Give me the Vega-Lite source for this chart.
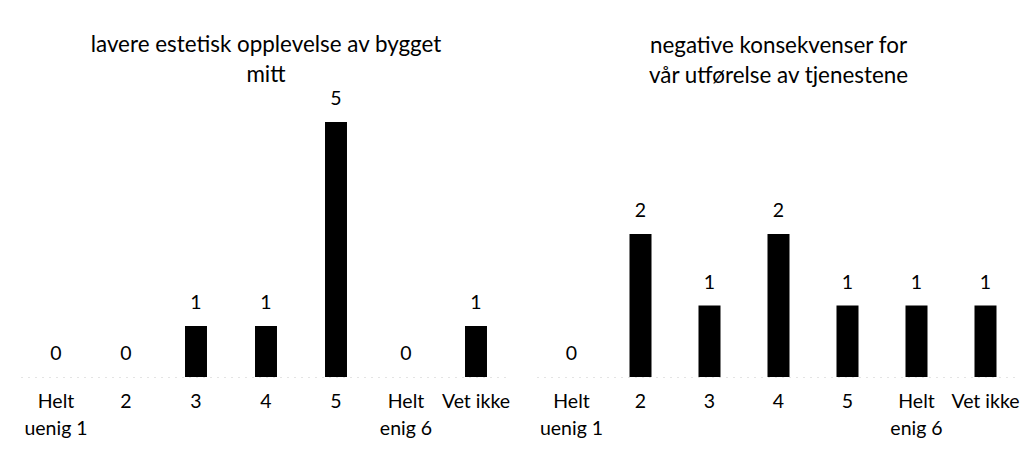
{
  "$schema": "https://vega.github.io/schema/vega-lite/v6.json",
  "padding": {"left": 21, "top": 33, "right": 0, "bottom": 0},
  "background": "white",
  "config": {"view": {"stroke": null}, "font": "Lato", "concat": {"spacing": 26}},
  "datasets": {
    "venstre": [
      {"kategori": "Helt uenig 1", "antall": 0},
      {"kategori": "2", "antall": 0},
      {"kategori": "3", "antall": 1},
      {"kategori": "4", "antall": 1},
      {"kategori": "5", "antall": 5},
      {"kategori": "Helt enig 6", "antall": 0},
      {"kategori": "Vet ikke", "antall": 1}
    ],
    "hoyre": [
      {"kategori": "Helt uenig 1", "antall": 0},
      {"kategori": "2", "antall": 2},
      {"kategori": "3", "antall": 1},
      {"kategori": "4", "antall": 2},
      {"kategori": "5", "antall": 1},
      {"kategori": "Helt enig 6", "antall": 1},
      {"kategori": "Vet ikke", "antall": 1}
    ]
  },
  "hconcat": [
    {
      "width": 490,
      "height": 287,
      "data": {"name": "venstre"},
      "title": {"text": ["lavere estetisk opplevelse av bygget", "mitt"], "fontSize": 22.4, "fontWeight": "normal", "lineHeight": 30, "frame": "group", "anchor": "middle", "baseline": "bottom", "offset": -20, "color": "black", "font": "Lato"},
      "encoding": {
        "x": {"field": "kategori", "type": "nominal", "sort": null,
          "scale": {"paddingInner": 0.686, "paddingOuter": 0.343},
          "axis": {"title": null, "labelAngle": 0, "ticks": false, "labelFontSize": 19.5, "labelColor": "black", "labelPadding": 15, "labelLineHeight": 27, "domainColor": "#c8c8c8", "domainDash": [1, 6],
            "labelExpr": "datum.label == 'Helt uenig 1' ? ['Helt', 'uenig 1'] : datum.label == 'Helt enig 6' ? ['Helt', 'enig 6'] : datum.label"}},
        "y": {"field": "antall", "type": "quantitative", "scale": {"domain": [0, 5.627]}, "axis": null}
      },
      "layer": [
        {"mark": {"type": "bar", "color": "black"}},
        {"mark": {"type": "text", "baseline": "alphabetic", "dy": -17, "fontSize": 19.5, "color": "black"}, "encoding": {"text": {"field": "antall", "type": "quantitative"}}}
      ]
    },
    {
      "width": 483,
      "height": 287,
      "data": {"name": "hoyre"},
      "title": {"text": ["negative konsekvenser for", "vår utførelse av tjenestene"], "fontSize": 22.4, "fontWeight": "normal", "lineHeight": 30, "frame": "group", "anchor": "middle", "baseline": "bottom", "offset": -20, "color": "black", "font": "Lato"},
      "encoding": {
        "x": {"field": "kategori", "type": "nominal", "sort": null,
          "scale": {"paddingInner": 0.681, "paddingOuter": 0.3405},
          "axis": {"title": null, "labelAngle": 0, "ticks": false, "labelFontSize": 19.5, "labelColor": "black", "labelPadding": 15, "labelLineHeight": 27, "domainColor": "#c8c8c8", "domainDash": [1, 6],
            "labelExpr": "datum.label == 'Helt uenig 1' ? ['Helt', 'uenig 1'] : datum.label == 'Helt enig 6' ? ['Helt', 'enig 6'] : datum.label"}},
        "y": {"field": "antall", "type": "quantitative", "scale": {"domain": [0, 4.014]}, "axis": null}
      },
      "layer": [
        {"mark": {"type": "bar", "color": "black"}},
        {"mark": {"type": "text", "baseline": "alphabetic", "dy": -17, "fontSize": 19.5, "color": "black"}, "encoding": {"text": {"field": "antall", "type": "quantitative"}}}
      ]
    }
  ]
}
